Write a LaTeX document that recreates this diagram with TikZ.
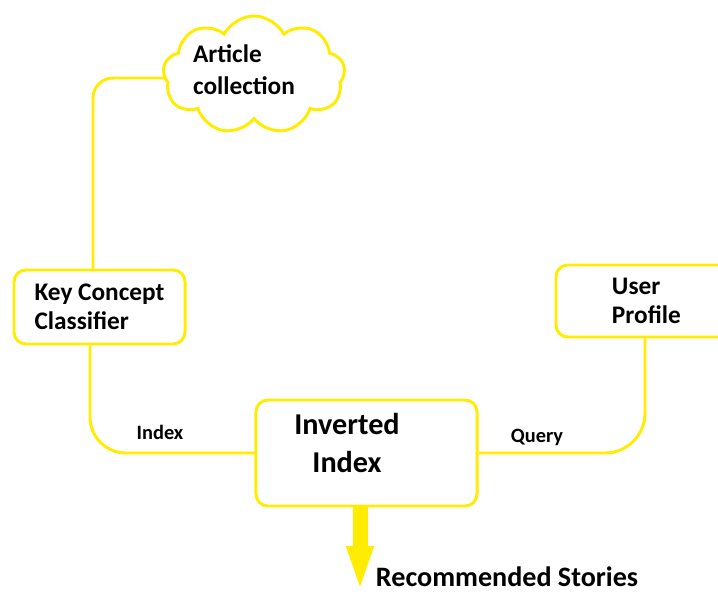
\documentclass[tikz,border=0pt]{standalone}
\usepackage{fontspec}
\setmainfont{Carlito}
\usetikzlibrary{shapes.symbols,arrows.meta,calc}

\definecolor{paintyellow}{RGB}{255,236,0}

\tikzset{
    caja/.style={draw=paintyellow, line width=2.1pt, rounded corners=8.5pt,
        align=left, font=\bfseries\fontsize{18}{21}\selectfont},
    nube/.style={cloud, draw=paintyellow, line width=2.1pt, cloud puffs=9,
        cloud puff arc=125, aspect=1.55},
    enlace/.style={paintyellow, line width=2.1pt},
    etiqueta/.style={font=\bfseries\fontsize{14.5}{17}\selectfont}
}

\begin{document}
\begin{tikzpicture}[x=0.025cm, y=-0.025cm]

    \useasboundingbox (0,0) rectangle (718,592);

    % coleccion de articulos
    \node[nube, minimum width=4.55cm, minimum height=2.95cm] (cloud) at (254,75) {};
    \node[align=left, font=\bfseries\fontsize{18}{22.5}\selectfont] (cloudtxt) at (244,70) {Article\\collection};

    % cajas
    \node[caja, minimum width=4.275cm, minimum height=1.85cm] (kcc) at (99.5,307) {Key Concept\\Classifier};
    \node[caja, minimum width=4.45cm, minimum height=1.8cm, text width=1.65cm] (user) at (645,301) {User\\Profile};
    \node[caja, minimum width=5.525cm, minimum height=2.65cm] (inv) at (366.5,453) {};
    \node[font=\bfseries\fontsize{21.5}{26.5}\selectfont, align=center] (invtxt) at (347,443) {Inverted\\Index};

    % conexiones
    \draw[enlace, rounded corners=0.5cm] ($(cloud.west)+(2,3)$) -| ($(kcc.north)+(-6.5,0)$);
    \draw[enlace, rounded corners=0.9cm] ($(kcc.south)+(-9.5,0)$) |- (inv.west);
    \draw[enlace, rounded corners=1cm] (inv.east) -| (user.south);

    %leyendas
    \node[etiqueta] (lblindex) at (160,432) {Index};
    \node[etiqueta] (lblquery) at (537,437) {Query};

    % salida
    \coordinate (out) at (360,592);
    \draw[paintyellow, line width=0.375cm, -{Triangle[length=1.15cm, width=0.6cm]}]
        ($(inv.south)+(-6.5,0)$) -- (out);
    \node[anchor=west, font=\bfseries\fontsize{20}{24}\selectfont] (rec) at (371,577) {Recommended Stories};

\end{tikzpicture}
\end{document}
